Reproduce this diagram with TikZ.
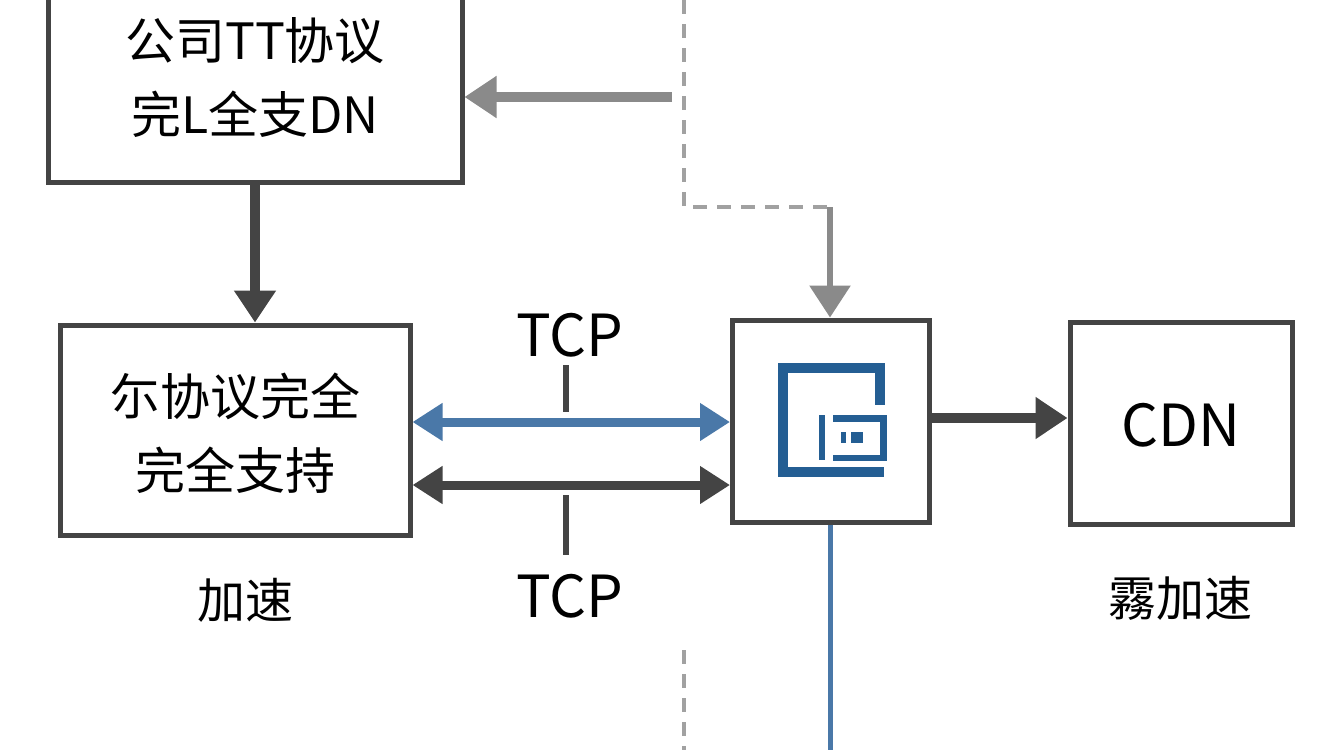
\documentclass[tikz,border=0pt]{standalone}
\usepackage{fontspec}
\setmainfont{Noto Sans CJK SC}
\usetikzlibrary{arrows.meta}
\definecolor{dk}{HTML}{444444}
\definecolor{gr}{HTML}{8A8A8A}
\definecolor{bl}{HTML}{4A78A8}
\definecolor{ic}{HTML}{245E93}
\begin{document}
\begin{tikzpicture}[x=1pt,y=-1pt,
 box/.style={draw=dk,line width=5pt,fill=white},
 txt/.style={font=\fontsize{50}{74}\selectfont,align=center,text=black},
 arr/.style={line width=10pt,-{Triangle[length=32pt,width=40pt]}},
 darr/.style={line width=9pt,{Triangle[length=30pt,width=36pt]}-{Triangle[length=30pt,width=36pt]}},
 dashln/.style={draw=gr!80,line width=4pt,dash pattern=on 14pt off 10pt},
 icn/.style={fill=ic}]
\useasboundingbox[fill=white] (0,0) rectangle (1344,750);
\node[box,minimum width=414pt,minimum height=215pt] (b1) at (255,75) {};
\node[txt] (t1) at (255,78) {公司TT协议\\完L全支DN};
\node[box,minimum width=350pt,minimum height=210pt] (b2) at (235,430) {};
\node[txt] (t2) at (235,433) {尓协议完全\\完全支持};
\node[box,minimum width=197pt,minimum height=202pt] (b3) at (831,421) {};
\node[box,minimum width=222pt,minimum height=202pt] (b4) at (1181,423) {};
\node[txt,font=\fontsize{58}{66}\selectfont] (t4) at (1181,425) {CDN};
\node[txt,font=\fontsize{48}{56}\selectfont] (l1) at (245,600) {加速};
\node[txt,font=\fontsize{48}{56}\selectfont] (l2) at (1180,598) {霧加速};
\node[txt,font=\fontsize{58}{66}\selectfont] (tcp1) at (570,335) {TCP};
\node[txt,font=\fontsize{58}{66}\selectfont] (tcp2) at (570,596) {TCP};
% icon
\fill[icn] (778,363) rectangle (885,373);
\fill[icn] (778,363) rectangle (788,477);
\fill[icn] (875,363) rectangle (885,405);
\fill[icn] (778,467) rectangle (884,477);
\fill[icn] (819,415) rectangle (825,460);
\fill[icn] (833,415) rectangle (887,422);
\fill[icn] (880,415) rectangle (887,460);
\fill[icn] (833,455) rectangle (887,461);
\fill[icn] (841,432) rectangle (846,443);
\fill[icn] (851,432) rectangle (863,443);
% coordinates
\coordinate (g0) at (672,97);
\coordinate (d0) at (684,0);
\coordinate (d1) at (684,207);
\coordinate (d2) at (830,207);
\coordinate (d3) at (684,650);
\coordinate (d4) at (684,750);
\coordinate (bl0) at (830,750);
\coordinate (k1a) at (566,365);
\coordinate (k1b) at (566,412);
\coordinate (k2a) at (566,495);
\coordinate (k2b) at (566,555);
% connectors
\draw[arr,gr] (g0) -- (b1.east|-g0);
\draw[dashln] (d0) -- (d1) -- (d2);
\draw[arr,gr,line width=6pt] (d2) -- (b3.north-|d2);
\draw[dashln] (d3) -- (d4);
\draw[arr,dk] (b1.south-|255,0) -- (b2.north-|255,0);
\draw[darr,bl] (b2.east|-0,422) -- (b3.west|-0,422);
\draw[darr,dk] (b2.east|-0,485) -- (b3.west|-0,485);
\draw[dk,line width=6pt] (k1a) -- (k1b);
\draw[dk,line width=6pt] (k2a) -- (k2b);
\draw[arr,dk] (b3.east|-0,418) -- (b4.west|-0,418);
\draw[bl,line width=5pt] (b3.south-|bl0) -- (bl0);
\end{tikzpicture}
\end{document}
